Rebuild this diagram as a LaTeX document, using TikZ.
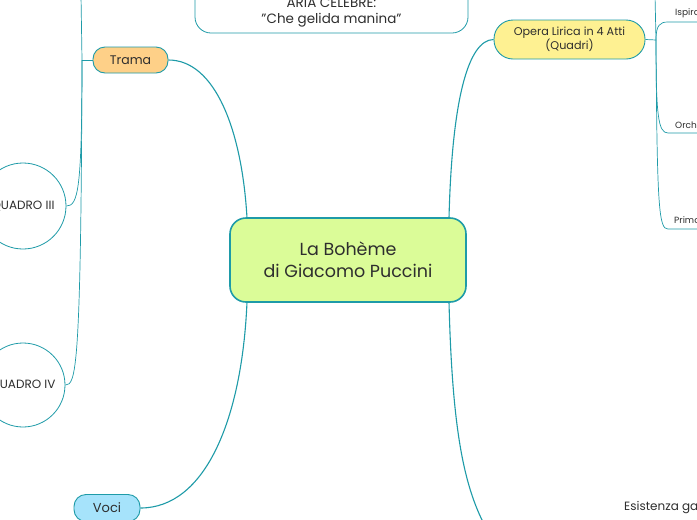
\documentclass[tikz,border=0pt]{standalone}
\usepackage{fontspec}
\setmainfont{Poppins}
\usetikzlibrary{calc}
\definecolor{teal1}{HTML}{1E9BA8}
\definecolor{centfill}{HTML}{DBFC98}
\definecolor{tramafill}{HTML}{FED088}
\definecolor{operafill}{HTML}{FEF192}
\definecolor{vocifill}{HTML}{A6E3FB}
\definecolor{txt}{HTML}{2E2E2E}
\tikzset{
  conn/.style={draw=teal1, line width=1.1pt},
  thin conn/.style={draw=teal1, line width=0.7pt},
  mainbox/.style={draw=teal1, line width=1.6pt, fill=centfill, rounded corners=16pt,
     minimum width=236pt, minimum height=84pt, align=center, text=txt, font=\fontsize{17.5}{22}\selectfont},
  pill/.style={draw=teal1, line width=0.9pt, rounded corners=12pt, align=center, text=txt, inner sep=0pt},
  circ/.style={circle, draw=teal1, line width=0.8pt, fill=white, text=txt, font=\fontsize{12}{14}\selectfont},
  leaf/.style={text=txt, anchor=west, inner sep=0pt, font=\fontsize{9}{10}\selectfont},
}
\begin{document}
\begin{tikzpicture}[x=1pt,y=-1pt]
\useasboundingbox (0,0) rectangle (697,520);
\clip (0,0) rectangle (697,520);
\fill[white] (0,0) rectangle (697,520);

% aria box (top, cut off)
\node[draw=teal1, line width=0.8pt, rounded corners=16pt, minimum width=273pt, minimum height=80pt, fill=white] (aria) at (331.5,-7) {};
\node[text=txt, font=\fontsize{13.5}{14}\selectfont, inner sep=0pt] (ariat1) at (331.5,2.5) {ARIA CELEBRE:};
\node[text=txt, font=\fontsize{13.5}{14}\selectfont, inner sep=0pt] (ariat2) at (331.5,20) {"Che gelida manina"};

% central
\node[mainbox] (c) at (348,260) {La Bohème\\di Giacomo Puccini};
\coordinate (ctl) at (247,218);
\coordinate (cbl) at (247,302);
\coordinate (ctr) at (449,218);
\coordinate (cbr) at (449,302);

% main branches
\node[pill, fill=tramafill, minimum width=75pt, minimum height=26pt, font=\fontsize{12.5}{14}\selectfont] (trama) at (130.5,60) {Trama};
\node[pill, fill=vocifill, minimum width=66pt, minimum height=27pt, font=\fontsize{13}{14}\selectfont] (voci) at (107,508) {Voci};
\node[pill, fill=operafill, minimum width=151pt, minimum height=39pt, rounded corners=19pt, font=\fontsize{11.2}{14}\selectfont] (opera) at (569.5,39.5) {Opera Lirica in 4 Atti\\(Quadri)};
\coordinate (brend) at (483,522);

\draw[conn] (ctl) .. controls (242,130) and (215,60) .. (trama.east);
\draw[conn] (cbl) .. controls (242,420) and (205,508) .. (voci.east);
\draw[conn] (ctr) .. controls (452,100) and (468,40) .. (opera.west);
\draw[conn] (cbr) .. controls (452,420) and (462,480) .. (brend);

% left subtree
\node[circ, minimum size=86pt] (q3) at (23,206) {QUADRO III};
\node[circ, minimum size=84pt] (q4) at (23,385) {QUADRO IV};
\coordinate (lj) at (82,60);
\coordinate (ltop) at (81,-5);
\draw[thin conn] (trama.west) -- (lj);
\draw[thin conn] (lj) -- (ltop);
\draw[thin conn] (lj) .. controls (82,190) and (78,206) .. (q3.east);
\draw[thin conn] (lj) .. controls (81,370) and (76,385) .. (q4.east);

% right subtree
\coordinate (rj) at (656,40);
\coordinate (rtop) at (655,-5);
\node[leaf] (isp) at (675,13) {Ispirazione};
\node[leaf] (orc) at (675,125) {Orchestra};
\node[leaf] (pri) at (674,220) {Primo};
\coordinate (ispu) at (668,22);
\coordinate (orcu) at (668,133);
\coordinate (priu) at (668,229);
\coordinate (ispe) at (700,22);
\coordinate (orce) at (700,133);
\coordinate (prie) at (700,229);
\draw[thin conn] (opera.east) -- (rj);
\draw[thin conn] (rj) -- (rtop);
\draw[thin conn] (rj) .. controls (656,25) and (660,22) .. (ispu) -- (ispe);
\draw[thin conn] (rj) .. controls (656,115) and (658,133) .. (orcu) -- (orce);
\draw[thin conn] (rj) .. controls (657,210) and (659,229) .. (priu) -- (prie);

% bottom right text
\node[text=txt, anchor=west, inner sep=0pt, font=\fontsize{12}{14}\selectfont] (esi) at (624,508) {Esistenza gaia};
\end{tikzpicture}
\end{document}
